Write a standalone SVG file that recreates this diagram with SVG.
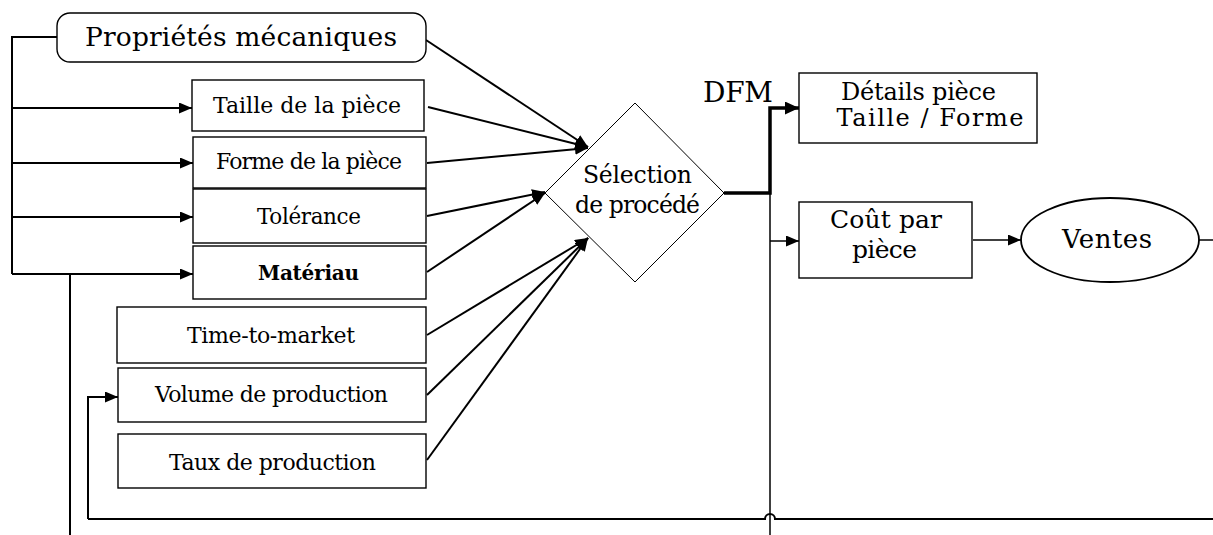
<svg xmlns="http://www.w3.org/2000/svg" width="1213" height="535" viewBox="0 0 1213 535">
<style>
.box{fill:#fff;stroke:#000;stroke-width:1.4}
.t{font-family:"DejaVu Serif","Liberation Serif",serif;fill:#000;text-anchor:middle}
.c{fill:none;stroke:#000;stroke-width:2}
.thin{fill:none;stroke:#000;stroke-width:1.5}
.thick{fill:none;stroke:#000;stroke-width:3.5}
</style>
<defs>
<marker id="ah" markerUnits="userSpaceOnUse" markerWidth="15" markerHeight="12" refX="13" refY="5.5" orient="auto">
<path d="M0,0 L13,5.5 L0,11 Z" fill="#000"/>
</marker>
<marker id="ahb" markerUnits="userSpaceOnUse" markerWidth="16" markerHeight="14" refX="14" refY="6.5" orient="auto">
<path d="M0,0 L14,6.5 L0,13 Z" fill="#000"/>
</marker>
</defs>
<rect width="1213" height="535" fill="#fff"/>
<g id="connectors">
<path class="c" d="M57,37 H12 V274"/>
<path class="c" d="M12,108 H192" marker-end="url(#ah)"/>
<path class="c" d="M12,163 H193" marker-end="url(#ah)"/>
<path class="c" d="M12,217 H193" marker-end="url(#ah)"/>
<path class="c" d="M12,274 H193" marker-end="url(#ah)"/>
<path class="c" d="M70,274 V535"/>
<path class="c" d="M88,519 V397 H118" marker-end="url(#ah)"/>
<path class="c" d="M88,519 H765 A5,5 0 0 1 775,519 H1213"/>
<path class="c" d="M426,40 L588,147" marker-end="url(#ah)"/>
<path class="c" d="M428,107 L588,147" marker-end="url(#ah)"/>
<path class="c" d="M427,163 L588,148" marker-end="url(#ah)"/>
<path class="c" d="M427,216 L545,192" marker-end="url(#ah)"/>
<path class="c" d="M427,272 L545,193" marker-end="url(#ah)"/>
<path class="c" d="M427,335 L588,238" marker-end="url(#ah)"/>
<path class="c" d="M427,395 L588,238" marker-end="url(#ah)"/>
<path class="c" d="M427,460 L588,238" marker-end="url(#ah)"/>
<path class="thick" d="M724,193 H770 V108 H799" marker-end="url(#ahb)"/>
<path class="thin" d="M770,193 V535"/>
<path class="thin" d="M770,241 H799" marker-end="url(#ah)"/>
<path class="thin" d="M973,240 H1021" marker-end="url(#ah)"/>
<path class="thin" d="M1199,240 H1213"/>
</g>
<g id="proprietes">
<rect class="box" x="57" y="13" width="369" height="49" rx="13"/>
<text class="t" x="241" y="46" font-size="26.5" textLength="312">Propriétés mécaniques</text>
</g>
<g id="taille">
<rect class="box" x="192" y="80" width="232" height="51"/>
<text class="t" x="307" y="113" font-size="22" textLength="188">Taille de la pièce</text>
</g>
<g id="forme">
<rect class="box" x="193" y="137" width="233" height="51"/>
<text class="t" x="309" y="169" font-size="22" textLength="186">Forme de la pièce</text>
</g>
<g id="tolerance">
<rect class="box" x="193" y="189" width="233" height="54"/>
<text class="t" x="309" y="224" font-size="21.5" textLength="104">Tolérance</text>
</g>
<g id="materiau">
<rect class="box" x="193" y="246" width="233" height="53"/>
<text class="t" x="308.5" y="280" font-size="20" font-weight="bold" textLength="101">Matériau</text>
</g>
<g id="time">
<rect class="box" x="117" y="307" width="309" height="56"/>
<text class="t" x="271" y="343" font-size="22" textLength="168">Time-to-market</text>
</g>
<g id="volume">
<rect class="box" x="118" y="368" width="308" height="54"/>
<text class="t" x="271.5" y="402" font-size="22" textLength="233">Volume de production</text>
</g>
<g id="taux">
<rect class="box" x="118" y="434" width="308" height="54"/>
<text class="t" x="272.5" y="470" font-size="22" textLength="207">Taux de production</text>
</g>
<g id="selection">
<polygon points="635,103 724,193 635,282 545,193" fill="#fff" stroke="#000" stroke-width="1"/>
<text class="t" x="637.5" y="183" font-size="23.5" textLength="109">Sélection</text>
<text class="t" x="637.5" y="213" font-size="23.5" textLength="125">de procédé</text>
</g>
<g id="dfm">
<text class="t" x="738" y="102" font-size="28" textLength="70">DFM</text>
</g>
<g id="details">
<rect class="box" x="799" y="73" width="238" height="70"/>
<text class="t" x="918.5" y="100" font-size="24" textLength="155">Détails pièce</text>
<text class="t" x="930" y="126" font-size="24" textLength="187">Taille / Forme</text>
</g>
<g id="cout">
<rect class="box" x="799" y="202" width="173" height="76" stroke-width="1.8"/>
<text class="t" x="886" y="228" font-size="25" textLength="112">Coût par</text>
<text class="t" x="884.5" y="258" font-size="25" textLength="65">pièce</text>
</g>
<g id="ventes">
<ellipse cx="1110" cy="240" rx="89" ry="42" fill="#fff" stroke="#000" stroke-width="1.8"/>
<text class="t" x="1107" y="248" font-size="26" textLength="90">Ventes</text>
</g>
</svg>
